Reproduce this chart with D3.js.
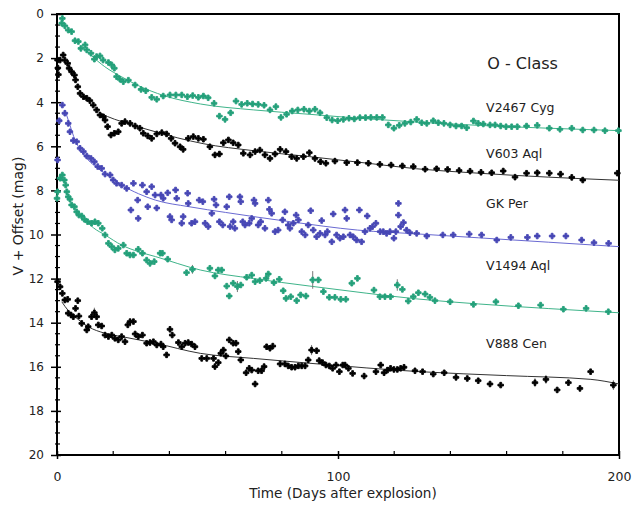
<!DOCTYPE html>
<html>
<head>
<meta charset="utf-8">
<script src="https://cdn.jsdelivr.net/npm/d3@7"></script>
<style>
  body { margin: 0; background: #fff; }
  text { font-family: "DejaVu Sans", Verdana, sans-serif; fill: #222; }
</style>
</head>
<body>
<svg id="chart" width="635" height="508"></svg>
<script>
// light curves, [day, V + offset]
const v2467Cyg = [[1.9,0.20],[1.7,0.42],[2.8,0.54],[4.0,0.73],[5.2,0.80],[6.4,1.21],[7.6,1.25],[8.5,1.56],[10.0,1.40],[10.6,1.63],[12.1,1.78],[13.3,2.05],[14.1,1.93],[15.3,1.90],[16.4,2.09],[18.3,2.20],[19.5,2.31],[20.4,2.46],[21.2,2.84],[22.4,2.96],[23.6,3.07],[25.4,3.00],[27.8,3.22],[29.9,3.42],[31.6,3.48],[33.7,3.78],[35.5,3.87],[37.8,3.72],[40.2,3.67],[42.3,3.67],[44.4,3.67],[46.4,3.75],[48.3,3.70],[50.3,3.78],[52.1,3.72],[53.8,3.80],[55.9,4.05],[57.8,4.63],[59.8,4.78],[61.8,4.48],[63.7,3.95],[65.7,4.10],[67.7,4.05],[69.6,4.08],[71.6,4.10],[73.7,4.14],[75.8,4.35],[77.9,4.20],[79.7,4.69],[81.7,4.55],[83.7,4.40],[85.7,4.35],[87.9,4.32],[89.8,4.40],[91.8,4.32],[93.6,4.48],[96.0,4.70],[97.9,4.81],[99.9,4.84],[101.9,4.78],[103.9,4.73],[105.8,4.76],[107.8,4.70],[109.8,4.70],[111.7,4.69],[113.8,4.69],[115.8,4.69],[117.9,5.03],[119.9,5.18],[121.8,5.05],[123.8,4.96],[125.9,4.90],[128.0,4.78],[129.8,4.93],[131.6,4.96],[133.9,4.84],[135.7,4.93],[137.7,4.96],[139.9,5.03],[142.0,5.08],[144.0,5.08],[145.8,5.16],[148.2,4.85],[149.9,4.96],[151.7,4.99],[154.1,5.03],[155.9,5.03],[157.9,5.08],[159.8,5.11],[161.8,5.11],[163.8,5.11],[167.1,5.08],[170.9,5.05],[175.2,5.18],[179.0,5.23],[183.2,5.18],[187.1,5.26],[191.1,5.26],[195.0,5.29],[199.8,5.29]];

const v603Aql = [[0.2,2.09],[0.3,2.45],[0.5,2.75],[1.1,2.09],[2.2,1.86],[2.8,2.09],[3.8,2.24],[4.3,2.46],[5.2,2.62],[6.2,2.77],[6.6,2.99],[7.4,3.30],[8.2,3.60],[9.4,3.75],[10.6,3.82],[11.7,3.93],[12.9,4.13],[14.1,4.35],[15.3,4.58],[16.5,4.66],[17.1,4.81],[18.0,5.11],[19.2,5.49],[20.4,5.41],[21.8,5.34],[23.0,4.96],[24.2,4.88],[26.0,4.96],[27.8,5.08],[29.5,5.18],[30.7,5.41],[32.3,5.53],[33.7,5.64],[35.5,5.44],[37.3,5.38],[39.0,5.44],[40.6,5.64],[42.0,5.86],[43.8,6.02],[44.9,6.14],[46.7,5.64],[48.5,5.56],[50.3,5.64],[52.1,5.68],[54.4,6.02],[56.2,6.39],[57.8,6.35],[59.2,5.84],[61.0,5.71],[62.7,5.84],[64.5,5.94],[66.3,6.32],[68.7,6.39],[70.5,6.24],[72.2,6.17],[74.0,6.39],[75.8,6.55],[77.6,6.35],[79.4,6.14],[81.5,6.24],[83.5,6.47],[85.3,6.55],[87.7,6.47],[89.8,6.29],[91.8,6.55],[93.8,6.70],[95.7,6.77],[98.9,6.67],[103.1,6.74],[106.9,6.74],[110.8,6.77],[114.9,6.82],[118.9,6.85],[122.9,6.89],[126.8,6.92],[131.0,7.04],[135.1,7.02],[139.0,7.05],[143.1,7.10],[147.0,7.13],[150.9,7.18],[154.7,7.20],[158.8,7.12],[163.0,7.40],[167.1,7.22],[170.9,7.20],[175.2,7.22],[179.2,7.26],[183.2,7.41],[187.1,7.53],[199.4,7.22]];

const gkPer = [[0.2,6.62],[0.8,4.84],[1.9,4.13],[2.8,4.50],[4.0,4.96],[4.6,5.34],[5.8,5.74],[7.0,5.79],[8.2,6.09],[9.4,6.24],[10.6,6.44],[12.1,6.55],[13.3,6.70],[14.5,6.92],[15.9,7.00],[17.1,7.26],[18.9,7.30],[20.0,7.53],[21.2,7.68],[23.0,7.76],[24.8,7.91],[26.3,8.89],[27.2,7.68],[28.7,8.44],[28.9,9.27],[30.4,7.76],[31.9,8.06],[32.3,8.74],[33.7,7.83],[34.9,8.21],[35.5,8.80],[37.0,8.21],[37.8,8.36],[39.4,8.11],[40.2,9.19],[40.8,9.34],[42.2,7.98],[42.6,8.36],[44.4,9.49],[44.9,9.19],[46.5,8.13],[46.7,8.59],[47.9,9.49],[49.1,9.42],[50.6,8.44],[51.9,8.51],[52.7,9.49],[53.8,9.64],[55.1,9.04],[55.9,8.40],[56.6,8.66],[57.8,9.42],[59.0,9.57],[60.4,8.74],[61.3,8.29],[61.6,9.64],[62.7,9.42],[63.3,9.72],[65.1,8.29],[65.4,8.51],[66.1,9.42],[66.9,9.57],[68.4,9.49],[69.3,9.27],[70.1,8.44],[70.5,8.59],[71.6,9.57],[72.5,9.42],[74.0,9.72],[75.2,8.44],[75.6,8.86],[76.4,9.04],[77.6,9.87],[78.7,9.80],[80.3,9.34],[81.1,8.97],[82.3,9.57],[82.9,9.72],[84.1,9.49],[85.1,9.12],[85.9,9.34],[87.1,9.87],[88.3,10.02],[89.4,9.57],[90.3,8.92],[91.2,9.80],[92.4,10.10],[93.6,9.95],[94.2,9.37],[95.4,10.02],[96.2,9.87],[97.8,10.33],[98.3,9.07],[99.5,10.02],[100.7,10.17],[101.9,10.10],[102.5,8.89],[103.1,9.27],[104.3,10.02],[105.4,10.10],[106.6,10.25],[107.6,8.89],[108.4,10.33],[109.6,9.87],[110.4,9.16],[111.4,9.72],[112.3,9.64],[113.5,9.49],[115.0,9.87],[116.1,9.87],[117.3,9.95],[118.5,9.87],[119.9,10.17],[120.6,9.87],[121.5,8.59],[121.5,9.12],[122.3,9.64],[123.3,9.46],[124.4,9.80],[125.6,9.92],[128.0,9.95],[131.6,10.07],[137.3,10.02],[141.0,10.02],[146.7,9.98],[151.1,10.02],[156.5,10.25],[161.5,10.13],[167.4,10.13],[170.9,10.07],[176.2,10.07],[181.1,10.07],[186.7,10.25],[191.1,10.37],[196.3,10.40]];

const v1494Aql = [[0.0,8.36],[0.2,8.06],[1.1,7.45],[1.9,7.30],[2.6,7.53],[3.1,7.76],[3.5,8.06],[4.0,8.29],[4.6,8.40],[5.2,8.66],[6.2,8.74],[7.0,8.97],[7.8,9.12],[8.8,9.16],[9.7,9.31],[10.9,9.42],[12.3,9.49],[13.5,9.42],[14.7,9.49],[16.1,9.72],[17.1,10.02],[18.3,10.40],[19.5,10.55],[20.6,10.70],[21.8,10.63],[23.6,10.48],[24.8,10.85],[26.0,10.93],[27.2,10.93],[28.9,10.67],[30.4,10.85],[31.9,11.16],[33.1,11.31],[34.6,11.23],[36.7,10.85],[37.5,10.85],[39.4,11.12],[46.1,11.73],[48.2,11.58],[54.4,11.53],[56.2,11.88],[57.4,11.61],[58.6,11.61],[60.4,12.34],[61.3,12.79],[62.7,12.21],[64.2,12.36],[65.4,12.29],[67.5,11.94],[69.3,11.84],[70.5,12.14],[72.2,12.09],[74.4,11.99],[75.2,11.79],[77.2,12.18],[79.1,12.03],[80.5,12.55],[81.5,12.90],[83.2,12.82],[85.3,13.00],[86.7,12.74],[88.6,12.79],[91.0,12.06],[93.0,12.06],[94.8,12.59],[96.9,12.85],[98.9,12.85],[101.0,12.94],[102.8,12.94],[104.9,12.21],[106.9,11.99],[112.8,12.52],[114.9,12.82],[116.7,12.82],[118.7,12.82],[121.1,12.29],[122.9,12.49],[125.0,13.02],[126.8,12.82],[128.6,12.64],[131.0,12.70],[132.7,12.85],[134.5,13.00],[139.9,13.05],[148.2,13.17],[156.2,13.05],[164.2,13.23],[172.1,13.20],[180.2,13.39],[188.3,13.35],[196.2,13.50]];

const v888Cen = [[0.2,12.14],[1.1,12.37],[1.9,12.67],[2.8,12.97],[3.8,12.94],[4.0,13.57],[5.0,13.65],[5.8,13.73],[6.6,13.35],[7.4,13.00],[7.8,13.70],[8.8,14.03],[10.6,14.33],[11.1,14.18],[12.3,13.73],[13.3,13.55],[14.1,13.73],[14.7,14.10],[15.9,14.15],[17.1,14.56],[18.3,14.63],[19.5,14.56],[20.6,14.71],[21.8,14.78],[23.0,14.63],[24.2,14.86],[25.2,14.10],[26.0,13.95],[27.2,13.95],[27.8,14.51],[28.9,14.63],[30.4,14.56],[31.9,14.93],[33.1,14.90],[34.3,14.86],[35.5,15.01],[37.0,14.97],[37.8,15.09],[39.0,15.46],[40.2,14.30],[41.0,14.56],[43.2,14.90],[44.4,15.09],[45.6,14.93],[46.7,14.90],[47.9,14.97],[49.1,15.09],[51.5,15.62],[53.3,15.62],[55.7,15.62],[56.2,15.99],[57.4,15.81],[58.3,15.39],[59.2,15.24],[60.1,15.51],[61.3,14.78],[62.7,14.93],[63.7,14.93],[64.5,15.31],[65.4,15.69],[67.3,16.27],[68.4,16.07],[69.3,16.15],[70.5,16.78],[71.6,16.18],[72.8,16.18],[73.7,15.99],[74.6,15.09],[75.8,15.16],[76.8,15.06],[79.4,15.87],[81.1,15.87],[82.3,15.96],[83.5,16.02],[84.7,16.02],[85.9,15.96],[87.1,15.96],[88.3,15.96],[89.4,15.69],[90.6,15.24],[92.4,15.27],[93.3,15.72],[94.5,15.81],[95.7,15.92],[96.9,15.96],[98.1,16.07],[99.3,15.92],[100.5,16.22],[101.7,15.92],[102.5,15.92],[103.7,16.07],[105.2,16.30],[109.3,16.42],[113.5,16.22],[115.2,15.92],[116.4,16.27],[117.6,16.15],[118.7,16.07],[119.9,16.12],[121.1,16.12],[122.3,16.07],[123.5,16.02],[127.4,16.18],[130.1,16.22],[133.9,16.33],[137.8,16.27],[142.0,16.48],[146.0,16.53],[149.9,16.63],[154.1,16.78],[157.9,16.83],[170.1,16.72],[174.0,16.57],[178.0,17.05],[182.0,16.72],[186.1,16.98],[189.9,16.22],[198.0,16.83]];

// fitted curves
const v2467Fit = [[9,1.45],[12,1.85],[17,2.39],[23,2.85],[29,3.25],[38,3.70],[51,4.08],[70,4.35],[90,4.55],[110,4.75],[128,4.90],[150,5.05],[175,5.18],[200,5.29]];
const v603Fit = [[14.7,4.43],[18,4.65],[23,4.88],[29,5.12],[35,5.34],[43,5.62],[52,5.88],[70,6.20],[90,6.47],[110,6.76],[128,7.02],[150,7.22],[175,7.40],[200,7.54]];
const gkPerFit = [[2.8,4.35],[4.5,5.0],[6.4,5.71],[8.5,6.2],[11.1,6.62],[14,6.95],[17.1,7.23],[23,7.76],[29,8.15],[35,8.44],[47,8.74],[60,9.0],[83,9.42],[107,9.80],[129,9.98],[150,10.15],[175,10.35],[200,10.55]];
const v1494Fit = [[10,9.34],[13,9.70],[17.1,10.02],[23,10.48],[29,10.78],[35,11.0],[51,11.61],[70,12.0],[90,12.34],[110,12.66],[128,12.92],[150,13.15],[175,13.36],[200,13.55]];
const v888Fit = [[1.7,13.05],[4,13.45],[6.4,13.73],[11.1,14.18],[17.1,14.48],[23,14.63],[35,14.93],[51,15.39],[70,15.62],[90,15.84],[110,16.05],[129,16.22],[160,16.40],[190,16.57],[200,16.78]];

// error bars [day, mag, half length]
const v1494Err = [[48.2,11.58,0.2],[64.2,12.36,0.25],[91.0,12.06,0.4],[121.1,12.29,0.26]];
const v888Err = [[13.3,13.55,0.23],[90.6,15.24,0.23],[170.1,16.72,0.2],[174.0,16.57,0.2],[198.0,16.83,0.22]];

const starNames = ["V2467 Cyg","V603 Aql","GK Per","V1494 Aql","V888 Cen"];
const labelMags = [4.43,6.53,8.81,11.61,15.16];

const svg = d3.select("#chart"),
    width = +svg.attr("width"),
    height = +svg.attr("height");

const x = d3.scaleLinear().domain([0,200]).range([57,619]);
const y = d3.scaleLinear().domain([0,20]).range([14,455]);

const green = "#24a07a", blue = "#4747b5";

const series = [
  {pts: v2467Cyg, fit: v2467Fit, color: green, line: "#3fb48a"},
  {pts: v603Aql,  fit: v603Fit,  color: "#000", line: "#333"},
  {pts: gkPer,    fit: gkPerFit, color: blue,  line: "#6a6ad2"},
  {pts: v1494Aql, fit: v1494Fit, color: green, line: "#3fb48a"},
  {pts: v888Cen,  fit: v888Fit,  color: "#000", line: "#333"}
];

// y axis (major ticks cross the axis)
const yAxis = svg.append("g")
    .attr("transform", `translate(${x(0)},0)`)
    .call(d3.axisLeft(y).tickValues(d3.range(0,21,2)).tickSize(6).tickPadding(7));
yAxis.select(".domain").remove();
yAxis.selectAll(".tick line").attr("x1", 4).attr("stroke", "#000").attr("stroke-width", 1.5);
yAxis.selectAll("text").style("font-size", "12px").attr("fill", "#222");

svg.append("g").selectAll("line")
    .data(d3.range(0,20.01,0.5).filter(d => d % 2 != 0))
    .join("line")
    .attr("x1", x(0) - 2).attr("x2", x(0) + 3)
    .attr("y1", d => y(d)).attr("y2", d => y(d))
    .attr("stroke", "#000").attr("stroke-width", 1.2);

// x axis
const xAxis = svg.append("g")
    .attr("transform", `translate(0,${y(20)})`)
    .call(d3.axisBottom(x).tickValues([0,100,200]).tickSize(4).tickPadding(13));
xAxis.select(".domain").remove();
xAxis.selectAll(".tick line").attr("y1", -4).attr("stroke", "#000").attr("stroke-width", 1.5);
xAxis.selectAll("text").style("font-size", "12.5px").attr("fill", "#222");

svg.append("g").selectAll("line")
    .data(d3.range(20,200,20).filter(d => d != 100))
    .join("line")
    .attr("x1", d => x(d)).attr("x2", d => x(d))
    .attr("y1", y(20)).attr("y2", y(20) - 4)
    .attr("stroke", "#000").attr("stroke-width", 1.2);

// frame
svg.append("rect")
    .attr("x", x(0)).attr("y", y(0))
    .attr("width", x(200) - x(0)).attr("height", y(20) - y(0))
    .attr("fill", "none").attr("stroke", "#000").attr("stroke-width", 2);

// fits
const line = d3.line().x(d => x(d[0])).y(d => y(d[1])).curve(d3.curveMonotoneX);
svg.append("g").selectAll("path")
    .data(series)
    .join("path")
    .attr("d", d => line(d.fit))
    .attr("fill", "none")
    .attr("stroke", d => d.line)
    .attr("stroke-width", 1);

// error bars
svg.append("g").selectAll("line")
    .data(v1494Err.concat(v888Err))
    .join("line")
    .attr("x1", d => x(d[0])).attr("x2", d => x(d[0]))
    .attr("y1", d => y(d[1] - d[2])).attr("y2", d => y(d[1] + d[2]))
    .attr("stroke", "#777").attr("stroke-width", 1);

// points: chunky plus markers
const sym = d3.symbol().type(d3.symbolCross).size(17);
series.forEach(s => {
  svg.append("g").selectAll("path")
    .data(s.pts)
    .join("path")
    .attr("d", sym)
    .attr("transform", d => `translate(${x(d[0])},${y(d[1])})`)
    .attr("fill", s.color)
    .attr("stroke", s.color)
    .attr("stroke-width", 0.9)
    .attr("stroke-linejoin", "round");
});

// labels
svg.append("text")
    .attr("x", x(165.7)).attr("y", y(2.49))
    .attr("text-anchor", "middle")
    .style("font-size", "16px").attr("fill", "#111")
    .text("O - Class");

svg.append("g").selectAll("text")
    .data(starNames)
    .join("text")
    .attr("x", x(152.7))
    .attr("y", (d, i) => y(labelMags[i]))
    .style("font-size", "12.5px").attr("fill", "#111")
    .text(d => d);

svg.append("text")
    .attr("x", 343).attr("y", 498)
    .attr("text-anchor", "middle")
    .style("font-size", "13.6px")
    .text("Time (Days after explosion)");

svg.append("text")
    .attr("transform", "translate(23,216) rotate(-90)")
    .attr("text-anchor", "middle")
    .style("font-size", "14px")
    .text("V + Offset (mag)");
</script>
</body>
</html>
